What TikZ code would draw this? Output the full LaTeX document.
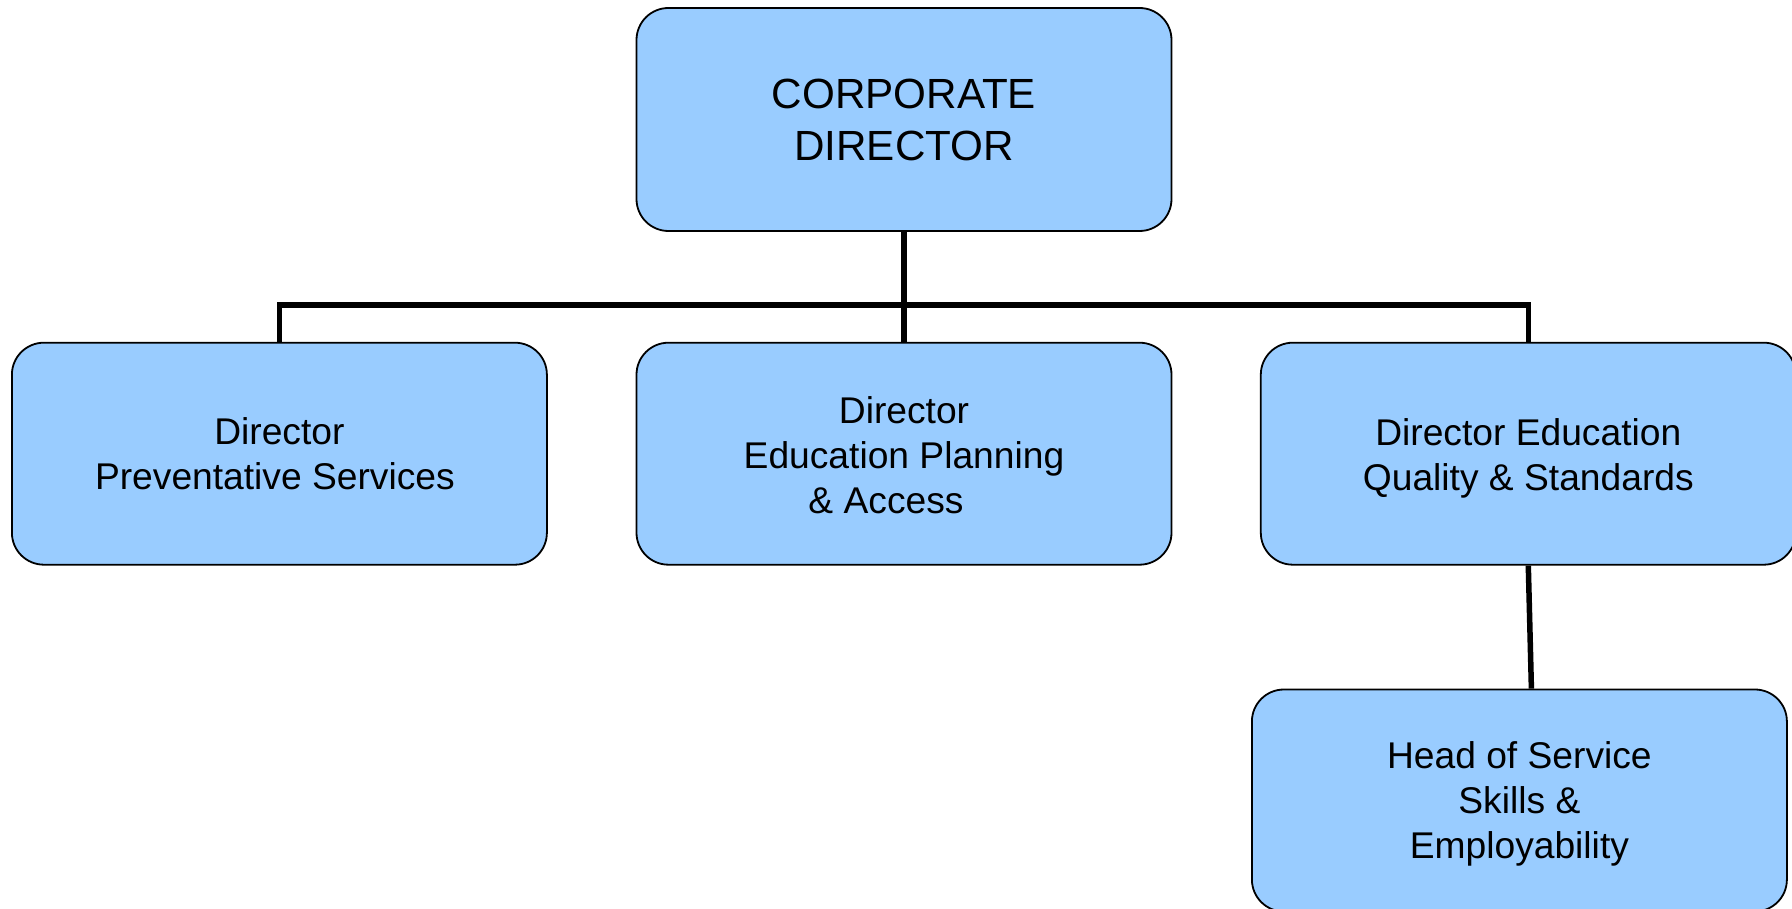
\documentclass[tikz,border=0pt]{standalone}
\usepackage{fontspec}
\setmainfont{Liberation Sans}
\definecolor{boxblue}{HTML}{99CCFF}
\begin{document}
\begin{tikzpicture}[x=1pt,y=-1pt,
  orgbox/.style={draw=black,line width=1.8pt,fill=boxblue,rounded corners=32pt,
    minimum width=535pt,minimum height=222pt,inner sep=0pt},
  lbl/.style={align=center,inner sep=0pt,font=\fontsize{37.2}{45}\selectfont},
  link/.style={line width=5.5pt,black}]
\useasboundingbox (0,0) rectangle (1792,909);
\clip (0,0) rectangle (1792,909);
\fill[white] (0,0) rectangle (1792,909);
\node[orgbox,minimum height=223pt,
  label={[lbl,font=\fontsize{42.2}{52}\selectfont]center:{CORPORATE\\DIRECTOR}}] (corp) at (904,119.5) {};
\node[orgbox,label={[lbl]center:{Director\\Preventative Services\rule{9pt}{0pt}}}] (left) at (279.4,453.7) {};
\node[orgbox,label={[lbl,yshift=-1.5pt]center:{Director\\Education Planning\\\& Access\rule{36pt}{0pt}}}] (mid) at (904,453.7) {};
\node[orgbox,label={[lbl,yshift=-4.5pt]center:{Director Education\\Quality \& Standards}}] (right) at (1528.3,453.7) {};
\node[orgbox,label={[lbl,yshift=-3.5pt]center:{Head of Service\\Skills \&\\Employability}}] (bot) at (1519.4,800.5) {};
\coordinate (bar) at (904,305);
\draw[link] (corp.south) -- (mid.north);
\draw[link,line join=miter] (left.north) |- (bar) -| (right.north);
\draw[link] (right.south) -- ([xshift=12pt]bot.north);
\end{tikzpicture}
\end{document}
